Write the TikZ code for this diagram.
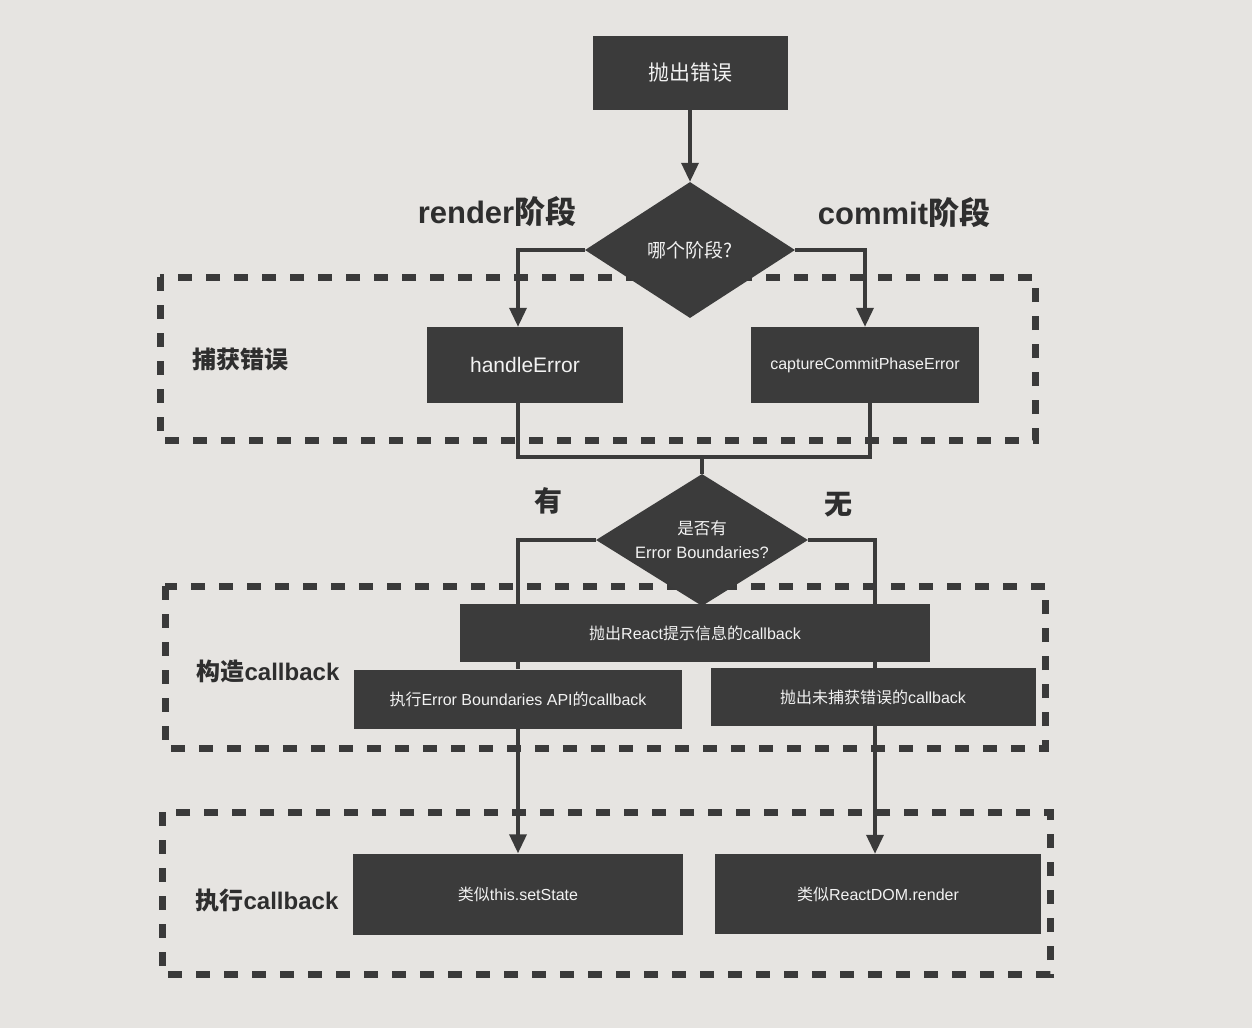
\documentclass[tikz,border=0pt]{standalone}
\usepackage{fontspec}
\setmainfont{Liberation Sans}
\newfontfamily\cjk{Noto Sans CJK SC}
\usetikzlibrary{shapes.geometric,arrows.meta}
\definecolor{bgc}{HTML}{E6E4E1}
\definecolor{boxc}{HTML}{3B3B3B}
\definecolor{linec}{HTML}{3A3A3A}
\definecolor{labc}{HTML}{2E2E2E}
\definecolor{txtc}{HTML}{F2F2F2}
\newcommand\fsz[2]{\fontsize{#1}{#2}\selectfont}
\begin{document}
\begin{tikzpicture}[x=1pt,y=-1pt,
  box/.style={rectangle, fill=boxc, text=txtc, inner sep=0pt},
  dia/.style={diamond, fill=boxc, text=txtc, inner sep=0pt, align=center},
  lab/.style={text=labc, inner sep=0pt},
  conn/.style={draw=linec, line width=3.5pt},
  arr/.style={conn, -{Triangle[width=17pt,length=19pt]}},
  dashbox/.style={draw=linec, line width=7pt, dash pattern=on 14pt off 14pt}
]
\fill[bgc] (0,0) rectangle (1252,1028);
\useasboundingbox (0,0) rectangle (1252,1028);

% dashed groups
\draw[dashbox] (160,277) rectangle (1035,440);
\draw[dashbox] (165,586) rectangle (1045,748);
\draw[dashbox] (162,812) rectangle (1050,974);

% columns
\coordinate (colL) at (518,0);
\coordinate (colR1) at (865,0);
\coordinate (colR2) at (870,0);
\coordinate (colR) at (875,0);

% nodes
\node[box, minimum width=195pt, minimum height=74pt, font=\cjk\fsz{21}{25}] (top) at (690,73) {抛出错误};
\node[dia, minimum width=210pt, minimum height=136pt, font=\cjk\fsz{19}{23}] (d1) at (690,250) {哪个阶段?};
\node[box, minimum width=196pt, minimum height=76pt, font=\fsz{21}{25}] (he) at (525,365) {handleError};
\node[box, minimum width=228pt, minimum height=76pt, font=\fsz{16}{20}] (cc) at (865,365) {captureCommitPhaseError};
\coordinate (j) at (702,457);
\node[dia, aspect=1.6, minimum width=212pt, minimum height=132pt, font=\fsz{16.5}{24}] (d2) at (702,540) {{\cjk 是否有}\\Error Boundaries?};
\node[box, minimum width=470pt, minimum height=58pt, font=\fsz{16}{20}] (react) at (695,633) {{\cjk 抛出}React{\cjk 提示信息的}callback};
\node[box, minimum width=328pt, minimum height=59pt, font=\fsz{16}{20}] (eb) at (518,699) {{\cjk 执行}Error Boundaries API{\cjk 的}callback};
\node[box, minimum width=325pt, minimum height=58pt, font=\fsz{16}{20}] (un) at (873,697) {{\cjk 抛出未捕获错误的}callback};
\node[box, minimum width=330pt, minimum height=81pt, font=\fsz{16}{20}] (ss) at (518,894) {{\cjk 类似}this.setState};
\node[box, minimum width=326pt, minimum height=80pt, font=\fsz{16}{20}] (rd) at (878,894) {{\cjk 类似}ReactDOM.render};

% labels
\node[lab, font=\bfseries\fsz{31}{35}] (lr) at (497,212) {render{\cjk 阶段}};
\node[lab, font=\bfseries\fsz{31}{35}] (lc) at (904,213) {commit{\cjk 阶段}};
\node[lab, font=\cjk\bfseries\fsz{24}{28}] (g1) at (240,359) {捕获错误};
\node[lab, font=\bfseries\fsz{24}{28}] (g2) at (268,671) {{\cjk 构造}callback};
\node[lab, font=\bfseries\fsz{24}{28}] (g3) at (267,900) {{\cjk 执行}callback};
\node[lab, font=\cjk\bfseries\fsz{28}{32}] (yes) at (548,501) {有};
\node[lab, font=\cjk\bfseries\fsz{28}{32}] (no) at (838,505) {无};

% connectors
\draw[arr] (top.south) -- (d1.north);
\draw[arr] (d1.west) -| (he.north -| colL);
\draw[arr] (d1.east) -| (cc.north -| colR1);
\draw[conn] (he.south -| colL) |- (j);
\draw[conn] (cc.south -| colR2) |- (j);
\draw[conn] (j) -- (d2.north);
\draw[conn] (d2.west) -| (react.north -| colL);
\draw[conn] (d2.east) -| (react.north -| colR);
\draw[conn] (react.south -| colL) -- (eb.north -| colL);
\draw[conn] (react.south -| colR) -- (un.north -| colR);
\draw[arr] (eb.south -| colL) -- (ss.north -| colL);
\draw[arr] (un.south -| colR) -- (rd.north -| colR);
\end{tikzpicture}
\end{document}
